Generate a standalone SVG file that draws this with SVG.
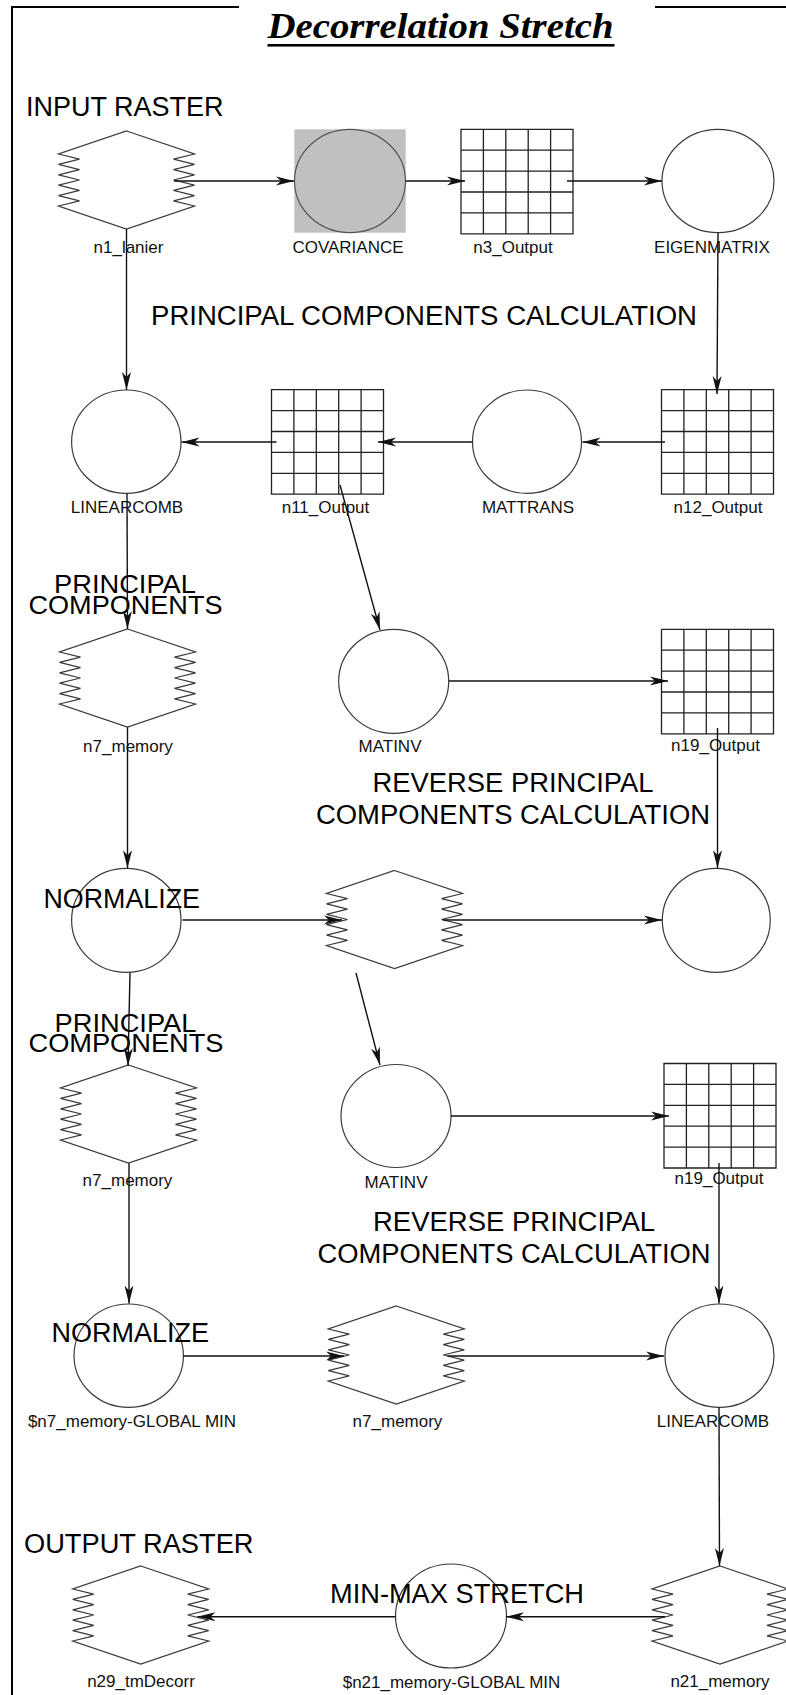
<svg xmlns="http://www.w3.org/2000/svg" xmlns:xlink="http://www.w3.org/1999/xlink" width="786" height="1695" viewBox="0 0 786 1695">
<style>
.frame{fill:none;stroke:#000;stroke-width:2}
.node{fill:#fff;stroke:#3a3a3a;stroke-width:1.2}
.cov{fill:#c0c0c0;stroke:#555;stroke-width:1.2}
.grid{fill:#fff;stroke:#222;stroke-width:1.3}
.edge{fill:none;stroke:#111;stroke-width:1.4;marker-end:url(#arr)}
.lbl{font-family:"Liberation Sans",Arial,sans-serif;font-size:17px;text-anchor:middle;fill:#111}
.big{font-family:"Liberation Sans",Arial,sans-serif;font-size:27px;fill:#000}
.mid{text-anchor:middle}
.title{font-family:"Liberation Serif","Times New Roman",serif;font-weight:bold;font-style:italic;font-size:36px;fill:#000}
</style>
<defs>
<marker id="arr" markerUnits="userSpaceOnUse" viewBox="0 0 18 12" refX="18" refY="6" markerWidth="18" markerHeight="12" orient="auto">
<path d="M18,6 L0,1.5 L5,6 L0,10.5 Z" fill="#111"/>
</marker>
<path id="hex" d="M0,-49 L68,-26 L47,-20.8 L68,-15.6 L47,-10.4 L68,-5.2 L47,0 L68,5.2 L47,10.4 L68,15.6 L47,20.8 L68,26 L0,49 L-68,26 L-47,20.8 L-68,15.6 L-47,10.4 L-68,5.2 L-47,0 L-68,-5.2 L-47,-10.4 L-68,-15.6 L-47,-20.8 L-68,-26 Z"/>
<path id="grd" d="M0,0 H112 V104.5 H0 Z M22.4,0 V104.5 M44.8,0 V104.5 M67.2,0 V104.5 M89.6,0 V104.5 M0,20.9 H112 M0,41.8 H112 M0,62.7 H112 M0,83.6 H112"/>
</defs>
<rect width="786" height="1695" fill="#fff"/>
<g id="frame">
<path class="frame" d="M239,7 H12 V1695 M655,7 H786"/>
<text class="title" x="267.5" y="38" textLength="346" lengthAdjust="spacingAndGlyphs">Decorrelation Stretch</text>
<rect x="267.5" y="44" width="347" height="2.6" fill="#000"/>
</g>
<g id="section-labels">
<text class="big" x="26" y="116">INPUT RASTER</text>
<text class="big mid" x="424" y="325" textLength="546" lengthAdjust="spacingAndGlyphs">PRINCIPAL COMPONENTS CALCULATION</text>
<text class="big mid" x="513" y="792.3" textLength="281" lengthAdjust="spacingAndGlyphs">REVERSE PRINCIPAL</text>
<text class="big mid" x="513" y="824.3" textLength="394" lengthAdjust="spacingAndGlyphs">COMPONENTS CALCULATION</text>
<text class="big mid" x="514" y="1231" textLength="282" lengthAdjust="spacingAndGlyphs">REVERSE PRINCIPAL</text>
<text class="big mid" x="514" y="1263.3" textLength="393" lengthAdjust="spacingAndGlyphs">COMPONENTS CALCULATION</text>
<text class="big" x="24" y="1553.3" textLength="229.5" lengthAdjust="spacingAndGlyphs">OUTPUT RASTER</text>
</g>
<g id="n1">
<use href="#hex" class="node" transform="translate(126.5,180)"/>
<text class="lbl" x="128.5" y="252.7">n1_lanier</text>
</g>
<g id="covariance">
<rect x="294.3" y="129.3" width="111.4" height="103.4" fill="#c0c0c0"/>
<ellipse class="cov" cx="350" cy="181" rx="55.5" ry="51.7"/>
<text class="lbl" x="348" y="252.7">COVARIANCE</text>
</g>
<g id="n3">
<use href="#grd" class="grid" x="461" y="129.3"/>
<text class="lbl" x="513" y="252.7">n3_Output</text>
</g>
<g id="eigenmatrix">
<ellipse class="node" cx="718" cy="181" rx="56" ry="51.7"/>
<text class="lbl" x="712" y="252.7">EIGENMATRIX</text>
</g>
<g id="linearcomb1">
<ellipse class="node" cx="126.3" cy="441.7" rx="54.7" ry="51.7"/>
<text class="lbl" x="127" y="512.7">LINEARCOMB</text>
</g>
<g id="n11">
<use href="#grd" class="grid" x="271.5" y="389.7"/>
<text class="lbl" x="325.5" y="512.7">n11_Output</text>
</g>
<g id="mattrans">
<ellipse class="node" cx="527" cy="441.7" rx="54.5" ry="51.7"/>
<text class="lbl" x="528" y="512.7">MATTRANS</text>
</g>
<g id="n12">
<use href="#grd" class="grid" x="661.5" y="389.7"/>
<text class="lbl" x="718" y="512.7">n12_Output</text>
</g>
<g id="n7a">
<use href="#hex" class="node" transform="translate(127.5,678)"/>
<text class="big mid" x="125" y="593.3" style="font-size:26px" textLength="142" lengthAdjust="spacingAndGlyphs">PRINCIPAL</text>
<text class="big mid" x="125.5" y="614" style="font-size:26px" textLength="194" lengthAdjust="spacingAndGlyphs">COMPONENTS</text>
<text class="lbl" x="128" y="751.7">n7_memory</text>
</g>
<g id="matinv1">
<ellipse class="node" cx="393.7" cy="681.3" rx="55" ry="52"/>
<text class="lbl" x="390" y="752">MATINV</text>
</g>
<g id="n19a">
<use href="#grd" class="grid" x="661.5" y="629.3"/>
<text class="lbl" x="715.5" y="751">n19_Output</text>
</g>
<g id="normalize1">
<ellipse class="node" cx="126.3" cy="920.3" rx="54.7" ry="52"/>
<text class="big" x="43.5" y="907.7" textLength="156.5" lengthAdjust="spacingAndGlyphs">NORMALIZE</text>
</g>
<g id="hexmid">
<use href="#hex" class="node" transform="translate(394.5,919.5)"/>
</g>
<g id="circ-right4">
<ellipse class="node" cx="716.3" cy="920.3" rx="54" ry="52"/>
</g>
<g id="n7b">
<use href="#hex" class="node" transform="translate(128.5,1114)"/>
<text class="big mid" x="125.5" y="1031.5" style="font-size:26px" textLength="142" lengthAdjust="spacingAndGlyphs">PRINCIPAL</text>
<text class="big mid" x="126" y="1052" style="font-size:26px" textLength="195" lengthAdjust="spacingAndGlyphs">COMPONENTS</text>
<text class="lbl" x="127.5" y="1185.5">n7_memory</text>
</g>
<g id="matinv2">
<ellipse class="node" cx="396" cy="1116" rx="55" ry="51.5"/>
<text class="lbl" x="396" y="1188">MATINV</text>
</g>
<g id="n19b">
<use href="#grd" class="grid" x="664" y="1063.5"/>
<text class="lbl" x="719" y="1184">n19_Output</text>
</g>
<g id="normalize2">
<ellipse class="node" cx="128.7" cy="1355.7" rx="54.7" ry="51.7"/>
<text class="big" x="51.5" y="1341.7" textLength="157.5" lengthAdjust="spacingAndGlyphs">NORMALIZE</text>
<text class="lbl" x="132" y="1426.7">$n7_memory-GLOBAL MIN</text>
</g>
<g id="n7c">
<use href="#hex" class="node" transform="translate(396.3,1355)"/>
<text class="lbl" x="397.5" y="1426.7">n7_memory</text>
</g>
<g id="linearcomb2">
<ellipse class="node" cx="719.5" cy="1355.7" rx="54.5" ry="51.7"/>
<text class="lbl" x="713" y="1426.7">LINEARCOMB</text>
</g>
<g id="n29">
<use href="#hex" class="node" transform="translate(140.7,1615)"/>
<text class="lbl" x="141" y="1687">n29_tmDecorr</text>
</g>
<g id="minmax">
<ellipse class="node" cx="451" cy="1616" rx="55.5" ry="52"/>
<text class="big" x="330" y="1603.3" textLength="254" lengthAdjust="spacingAndGlyphs">MIN-MAX STRETCH</text>
<text class="lbl" x="451.5" y="1688">$n21_memory-GLOBAL MIN</text>
</g>
<g id="n21">
<use href="#hex" class="node" transform="translate(720,1615)"/>
<text class="lbl" x="720" y="1687">n21_memory</text>
</g>
<g id="connectors">
<path class="edge" d="M174,181 H294"/>
<path class="edge" d="M405.5,181 H465"/>
<path class="edge" d="M567,181 H662"/>
<path class="edge" d="M718,232.7 L717,394"/>
<path class="edge" d="M126.5,229 V390"/>
<path class="edge" d="M665,442 H582.5"/>
<path class="edge" d="M472.5,442 H378"/>
<path class="edge" d="M276.5,442 H181.5"/>
<path class="edge" d="M127,493.5 L127.5,629"/>
<path class="edge" d="M340,485 L380,630"/>
<path class="edge" d="M449,681 H668"/>
<path class="edge" d="M127.5,727 V868.3"/>
<path class="edge" d="M717.5,728 V868.3"/>
<path class="edge" d="M182.5,920 H342"/>
<path class="edge" d="M443,920 H662"/>
<path class="edge" d="M356,973 L380,1065"/>
<path class="edge" d="M130,972.5 L128,1066"/>
<path class="edge" d="M451,1116 H669"/>
<path class="edge" d="M129,1163 V1303.5"/>
<path class="edge" d="M719,1163 V1303.5"/>
<path class="edge" d="M183.5,1356 H344"/>
<path class="edge" d="M447.5,1356 H664"/>
<path class="edge" d="M719,1407.5 L719.5,1566"/>
<path class="edge" d="M665,1616.7 H506"/>
<path class="edge" d="M395.5,1616.7 H197.5"/>
</g>
</svg>
